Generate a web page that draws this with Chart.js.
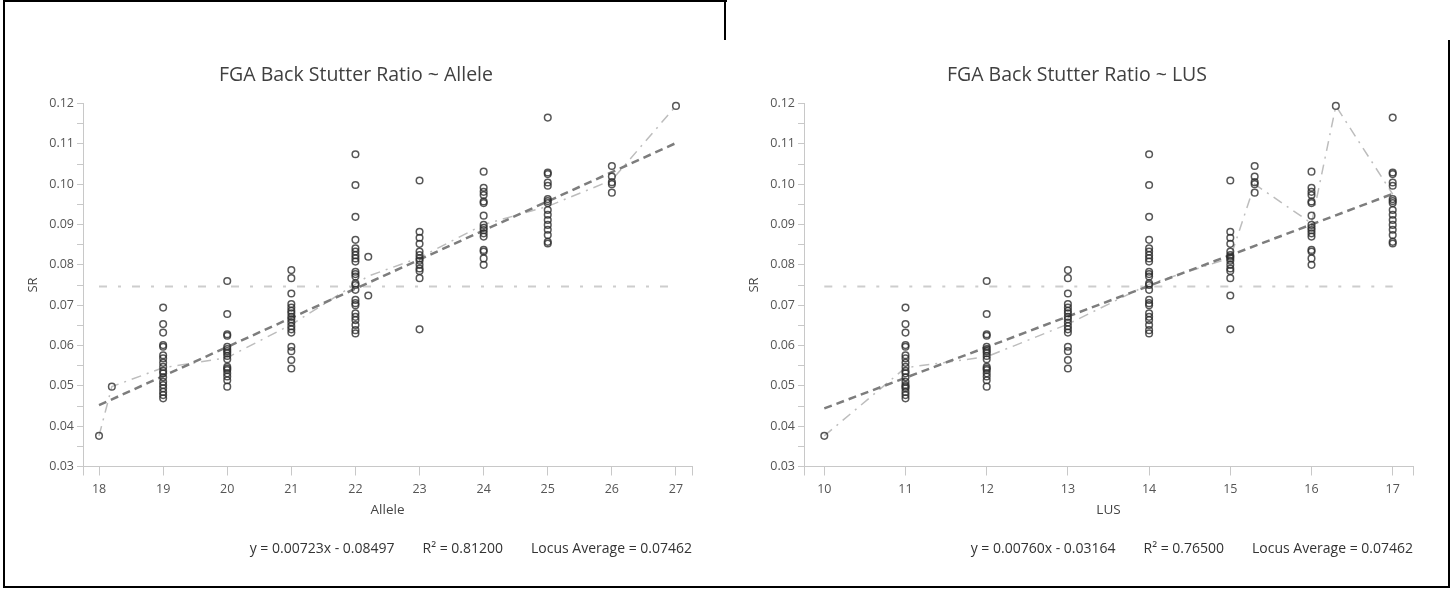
<!DOCTYPE html>
<html>
<head>
<meta charset="utf-8">
<script src="https://cdn.jsdelivr.net/npm/chart.js@4.4.1/dist/chart.umd.min.js"></script>
<style>
  body { margin: 0; background: #fff; }
  #page { position: relative; width: 1454px; height: 592px; overflow: hidden; background: #fff; }
  .panel { position: absolute; top: 0; width: 721px; height: 592px; }
  .rule { position: absolute; background: #000; }
</style>
</head>
<body>
<div id="page">
  <div class="panel" style="left:0"><canvas id="alleleChart" width="721" height="592"></canvas></div>
  <div class="panel" style="left:721px"><canvas id="lusChart" width="721" height="592"></canvas></div>
  <div class="rule" style="left:3px;top:0;width:2px;height:588px"></div>
  <div class="rule" style="left:3px;top:0;width:724px;height:2px"></div>
  <div class="rule" style="left:724px;top:0;width:2px;height:40px"></div>
  <div class="rule" style="left:1448px;top:40px;width:2px;height:548px"></div>
  <div class="rule" style="left:3px;top:586px;width:1447px;height:2px"></div>
</div>
<script>
// SR values per allele group
const sr18 = [0.0376];
const sr18_2 = [0.0498];
const sr19 = [0.0694, 0.0653, 0.0632, 0.0601, 0.0597, 0.0576, 0.0568, 0.0557, 0.0547, 0.0537, 0.0531, 0.0521, 0.0510, 0.0502, 0.0494, 0.0485, 0.0477, 0.0469];
const sr20 = [0.0760, 0.0678, 0.0628, 0.0624, 0.0597, 0.0591, 0.0586, 0.0581, 0.0574, 0.0566, 0.0547, 0.0543, 0.0539, 0.0531, 0.0523, 0.0514, 0.0498];
const sr21 = [0.0787, 0.0767, 0.0729, 0.0703, 0.0694, 0.0686, 0.0680, 0.0671, 0.0665, 0.0657, 0.0648, 0.0640, 0.0632, 0.0597, 0.0586, 0.0564, 0.0543];
const sr22 = [0.1074, 0.0998, 0.0919, 0.0862, 0.0841, 0.0833, 0.0824, 0.0816, 0.0808, 0.0783, 0.0777, 0.0771, 0.0754, 0.0750, 0.0738, 0.0713, 0.0705, 0.0700, 0.0680, 0.0671, 0.0663, 0.0651, 0.0638, 0.0630];
const sr22_2 = [0.0820, 0.0724];
const sr23 = [0.1009, 0.0882, 0.0867, 0.0852, 0.0833, 0.0824, 0.0816, 0.0810, 0.0800, 0.0791, 0.0785, 0.0767, 0.0640];
const sr24 = [0.1031, 0.0991, 0.0981, 0.0973, 0.0957, 0.0953, 0.0922, 0.0899, 0.0892, 0.0886, 0.0878, 0.0870, 0.0837, 0.0833, 0.0816, 0.0800];
const sr25 = [0.1165, 0.1029, 0.1025, 0.1004, 0.0996, 0.0963, 0.0958, 0.0953, 0.0936, 0.0924, 0.0911, 0.0899, 0.0887, 0.0874, 0.0857, 0.0853];
const sr26 = [0.1045, 0.1019, 0.1005, 0.1000, 0.0979];
const sr27 = [0.1194];

const groupSR = [sr18, sr18_2, sr19, sr20, sr21, sr22, sr22_2, sr23, sr24, sr25, sr26, sr27];
const groupAllele = [18, 18.2, 19, 20, 21, 22, 22.2, 23, 24, 25, 26, 27];
const groupLUS = [10, 11, 11, 12, 13, 14, 15, 15, 16, 17, 15.3, 16.3];

// mean SR line (dash-dot)
const alleleMeanX = [18, 18.2, 19, 20, 21, 22, 22.2, 23, 24, 25, 26, 27];
const alleleMeanSR = [0.0376, 0.0498, 0.0545, 0.0570, 0.0652, 0.0752, 0.0772, 0.0818, 0.0900, 0.0945, 0.1010, 0.1194];
const lusMeanX = [10, 11, 12, 13, 14, 15, 15.3, 16, 16.3, 17];
const lusMeanSR = [0.0376, 0.0545, 0.0572, 0.0653, 0.0752, 0.0817, 0.1000, 0.0903, 0.1194, 0.0975];

// regression line end points
const alleleFitX = [18, 27];
const alleleFitSR = [0.0452, 0.1102];
const lusFitX = [10, 17];
const lusFitSR = [0.0444, 0.0976];

const locusAverage = 0.07462;

const alleleTicks = [18, 19, 20, 21, 22, 23, 24, 25, 26, 27];
const lusTicks = [10, 11, 12, 13, 14, 15, 16, 17];
const srTickLabels = ["0.03", "0.04", "0.05", "0.06", "0.07", "0.08", "0.09", "0.10", "0.11", "0.12"];

const alleleFooter = ["y = 0.00723x - 0.08497", "R\u00b2 = 0.81200", "Locus Average = 0.07462"];
const lusFooter = ["y = 0.00760x - 0.03164", "R\u00b2 = 0.76500", "Locus Average = 0.07462"];

const FONT = "'Open Sans', 'Noto Sans', sans-serif";
Chart.defaults.font.family = FONT;

const footerPlugin = {
  id: "footerStats",
  afterDraw(chart, args, opts) {
    let ctx = chart.ctx;
    let area = chart.chartArea;
    ctx.save();
    ctx.font = "14px " + FONT;
    ctx.fillStyle = "#333";
    ctx.textAlign = "right";
    ctx.textBaseline = "middle";
    let x = area.right;
    let y = area.bottom + 83;
    for (let i = opts.parts.length - 1; i >= 0; i--) {
      ctx.fillText(opts.parts[i], x, y);
      x -= ctx.measureText(opts.parts[i]).width + 28;
    }
    ctx.restore();
  }
};

function pointsFor(xs) {
  let pts = [];
  for (let i = 0; i < groupSR.length; i++) {
    for (let v of groupSR[i]) pts.push({ x: xs[i], y: v });
  }
  return pts;
}

function pairs(xs, ys) {
  return xs.map((x, i) => ({ x: x, y: ys[i] }));
}

function makeChart(canvasId, cfg) {
  let first = cfg.ticks[0];
  let last = cfg.ticks[cfg.ticks.length - 1];
  let xMin = first - 0.25;
  let xMax = last + 0.25;
  return new Chart(document.getElementById(canvasId), {
    type: "scatter",
    data: {
      datasets: [
        {
          data: pointsFor(cfg.groupX),
          pointStyle: "circle",
          pointRadius: 3.3,
          borderWidth: 1.5,
          borderColor: "rgba(45,45,45,0.8)",
          backgroundColor: "rgba(0,0,0,0)",
          clip: false
        },
        {
          type: "line",
          data: pairs(cfg.fitX, cfg.fitSR),
          borderColor: "#7d7d7d",
          borderWidth: 2.5,
          borderDash: [8, 5],
          pointRadius: 0,
          fill: false
        },
        {
          type: "line",
          data: pairs(cfg.meanX, cfg.meanSR),
          borderColor: "#bdbdbd",
          borderWidth: 1.5,
          borderDash: [10, 6, 2, 6],
          pointRadius: 0,
          tension: 0,
          fill: false
        },
        {
          type: "line",
          data: pairs([first, last], [locusAverage, locusAverage]),
          borderColor: "#cdcdcd",
          borderWidth: 2,
          borderDash: [8, 11, 3, 11],
          pointRadius: 0,
          fill: false
        }
      ]
    },
    options: {
      responsive: false,
      animation: false,
      layout: { padding: { left: 20, right: 29, top: 0, bottom: 73.8 } },
      plugins: {
        legend: { display: false },
        tooltip: { enabled: false },
        title: {
          display: true,
          text: cfg.title,
          color: "#404040",
          font: { size: 19.5, weight: "normal" },
          padding: { top: 64, bottom: 16.1 }
        },
        footerStats: { parts: cfg.footer }
      },
      scales: {
        x: {
          type: "linear",
          min: xMin,
          max: xMax,
          afterBuildTicks: scale => {
            scale.ticks = [xMin].concat(cfg.ticks, [xMax]).map(v => ({ value: v }));
          },
          afterFit: scale => { scale.height = 51.7; },
          ticks: {
            autoSkip: false,
            maxRotation: 0,
            color: "#555",
            font: { size: 12.5 },
            padding: 6,
            callback: v => (cfg.ticks.includes(v) ? String(v) : "")
          },
          grid: { drawOnChartArea: false, drawTicks: true, tickLength: 9, color: "#c8c8c8" },
          border: { color: "#c8c8c8" },
          title: {
            display: true,
            text: cfg.xTitle,
            color: "#444",
            font: { size: 13.5 },
            padding: { top: 0, bottom: 0 }
          }
        },
        y: {
          min: 0.03,
          max: 0.12,
          afterFit: scale => { scale.width = 63; },
          ticks: {
            stepSize: 0.005,
            autoSkip: false,
            color: "#555",
            font: { size: 12.5 },
            padding: 3,
            callback: v => {
              let k = Math.round(v * 200);
              return k % 2 === 0 ? srTickLabels[k / 2 - 3] : "";
            }
          },
          grid: { drawOnChartArea: false, drawTicks: true, tickLength: 6, color: "#c8c8c8" },
          border: { color: "#c8c8c8" },
          title: {
            display: true,
            text: "SR",
            color: "#444",
            font: { size: 13 },
            padding: { top: 5.2, bottom: 0 }
          }
        }
      }
    },
    plugins: [footerPlugin]
  });
}

makeChart("alleleChart", {
  title: "FGA Back Stutter Ratio ~ Allele",
  xTitle: "Allele",
  ticks: alleleTicks,
  groupX: groupAllele,
  fitX: alleleFitX, fitSR: alleleFitSR,
  meanX: alleleMeanX, meanSR: alleleMeanSR,
  footer: alleleFooter
});

makeChart("lusChart", {
  title: "FGA Back Stutter Ratio ~ LUS",
  xTitle: "LUS",
  ticks: lusTicks,
  groupX: groupLUS,
  fitX: lusFitX, fitSR: lusFitSR,
  meanX: lusMeanX, meanSR: lusMeanSR,
  footer: lusFooter
});
</script>
</body>
</html>
